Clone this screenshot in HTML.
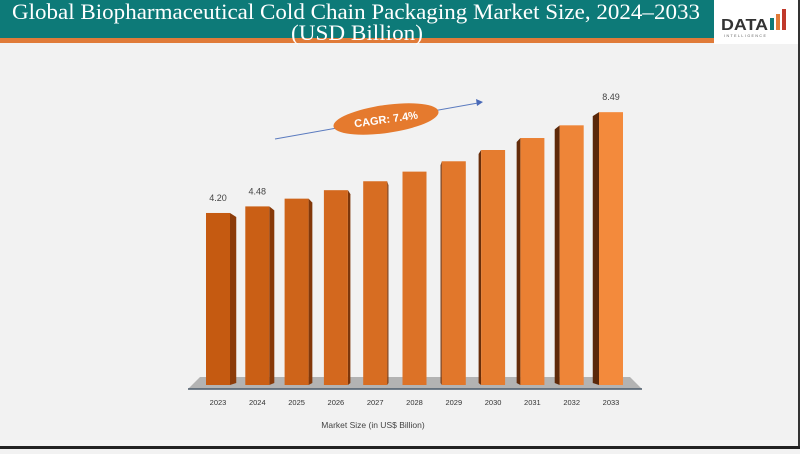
<!DOCTYPE html>
<html><head><meta charset="utf-8"><style>
body{margin:0;width:800px;height:449px;overflow:hidden;background:#f2f2f2;font-family:"Liberation Sans",sans-serif}
</style></head><body>
<svg width="800" height="449" xmlns="http://www.w3.org/2000/svg">
<rect x="0" y="0" width="800" height="449" fill="#f2f2f2"/>
<rect x="0" y="0" width="714" height="38" fill="#0d7a78"/>
<rect x="0" y="38" width="714" height="5" fill="#e07b39"/>
<text x="12" y="19" textLength="688" lengthAdjust="spacingAndGlyphs" font-family="Liberation Serif,serif" font-size="22" fill="#fff">Global Biopharmaceutical Cold Chain Packaging Market Size, 2024–2033</text>
<text x="357" y="40" text-anchor="middle" textLength="132" lengthAdjust="spacingAndGlyphs" font-family="Liberation Serif,serif" font-size="22" fill="#fff">(USD Billion)</text>
<g>
<rect x="714" y="0" width="84" height="44" fill="#fff"/>
<text x="721" y="30" font-size="16" font-weight="bold" fill="#333" textLength="47" lengthAdjust="spacingAndGlyphs">DATA</text>
<rect x="770" y="18" width="4" height="12" fill="#0d7a78"/><rect x="776" y="14" width="4" height="16" fill="#e07b39"/><rect x="782" y="9" width="4" height="21" fill="#c0392b"/>
<text x="724" y="37" font-size="3.5" fill="#555" letter-spacing="1.5">INTELLIGENCE</text>
</g>
<rect x="798" y="0" width="2" height="449" fill="#333"/>
<rect x="0" y="446" width="800" height="3" fill="#222"/>
<polygon points="200,377 630,377 642,389 188,389" fill="#b3b3b3"/>
<line x1="188" y1="389" x2="642" y2="389" stroke="#4a5a6a" stroke-width="1.5"/>
<g id="bars"></g>
<g>
<line x1="275" y1="139" x2="478" y2="103" stroke="#5b7bbf" stroke-width="1"/>
<polygon points="483,102 476,99 477,106" fill="#4a6ab8"/>
<ellipse cx="386" cy="119" rx="53" ry="14" fill="#e57a2e" transform="rotate(-8 386 119)"/>
<text x="386" y="123" text-anchor="middle" font-size="11" font-weight="bold" fill="#fff" transform="rotate(-8 386 119)">CAGR: 7.4%</text>
</g>
<text x="373" y="428" text-anchor="middle" font-size="8.5" fill="#444">Market Size (in US$ Billion)</text>
</svg>
<script>
const years=["2023","2024","2025","2026","2027","2028","2029","2030","2031","2032","2033"];
const values=[4.20,4.48,4.81,5.17,5.55,5.96,6.40,6.88,7.39,7.93,8.49];
const labels=["4.20","4.48","","","","","","","","","8.49"];
const base=385, vmin=-3.12, pxPer=23.5;
function yScale(v){return base-(v-vmin)*pxPer;}
function xScale(i){return 206+i*39.3;}
const g=document.getElementById('bars');
const NS="http://www.w3.org/2000/svg";
function lerp(a,b,t){return Math.round(a+(b-a)*t);}
values.forEach((v,i)=>{
  const t=i/(values.length-1);
  const x=xScale(i), y=yScale(v), w=24, s=(5-i)*1.25;
  const front=`rgb(${lerp(197,243,t)},${lerp(90,138,t)},${lerp(17,60,t)})`;
  const side=`rgb(${lerp(140,90,t)},${lerp(60,40,t)},${lerp(10,10,t)})`;
  const grp=document.createElementNS(NS,'g');
  
  
  const sp=document.createElementNS(NS,'polygon');
  const sx=s>=0?x+w:x;
  sp.setAttribute('points',`${sx},${y} ${sx+s},${y+4} ${sx+s},${base-2} ${sx},${base}`);
  sp.setAttribute('fill',side);
  grp.appendChild(sp);
  const r=document.createElementNS(NS,'rect');
  r.setAttribute('x',x);r.setAttribute('y',y);r.setAttribute('width',w);r.setAttribute('height',base-y);
  r.setAttribute('fill',front);
  grp.appendChild(r);
  g.appendChild(grp);
  const tx=document.createElementNS(NS,'text');
  
  
  tx.setAttribute('x',x+w/2);tx.setAttribute('y',405);tx.setAttribute('text-anchor','middle');
  tx.setAttribute('font-size','7.5');tx.setAttribute('fill','#333');tx.textContent=years[i];
  g.appendChild(tx);
  if(labels[i]){
    const lb=document.createElementNS(NS,'text');
    
    
    lb.setAttribute('x',x+w/2);lb.setAttribute('y',y-12);lb.setAttribute('text-anchor','middle');
    lb.setAttribute('font-size','9');lb.setAttribute('fill','#444');lb.textContent=labels[i];
    g.appendChild(lb);
  }
});
</script>
</body></html>
